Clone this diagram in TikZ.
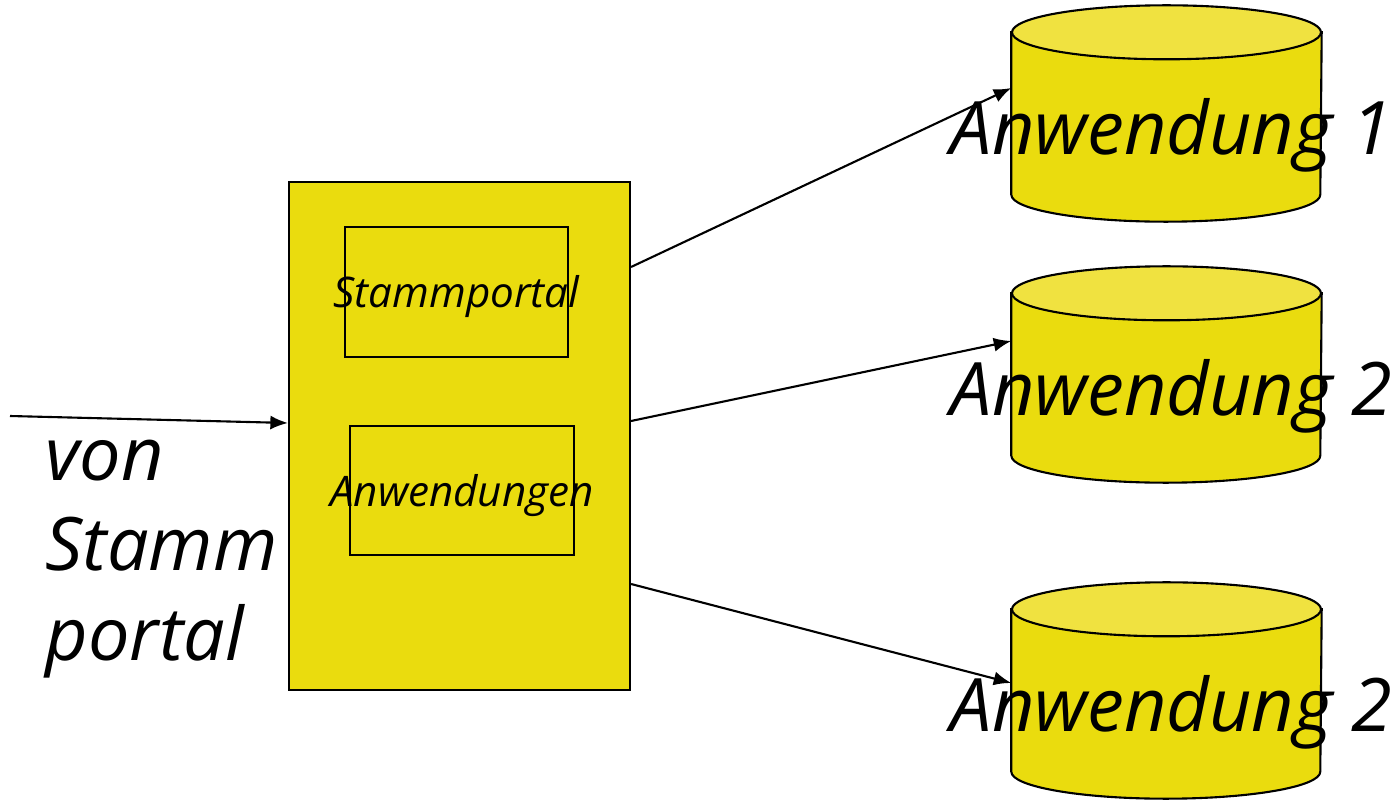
\documentclass[tikz,border=0pt]{standalone}
\usepackage{fontspec}
\setmainfont{Open Sans}
\usetikzlibrary{positioning,arrows.meta}
\definecolor{boxfill}{RGB}{234,220,14}
\definecolor{topfill}{RGB}{240,226,64}
\tikzstyle{portalbox} = [rectangle, draw=black, fill=boxfill, line width=0.6pt, inner sep=0pt]
\tikzstyle{innerbox}  = [rectangle, draw=black, line width=0.6pt, inner sep=0pt]
\tikzstyle{boxtext}   = [font=\itshape\fontsize{12}{14}\selectfont, inner sep=0pt, yshift=-0.05cm]
\tikzstyle{dbbox}     = [rectangle, minimum width=3.09cm, minimum height=2.15cm, inner sep=0pt]
\tikzstyle{dbline}    = [draw=black, line width=0.6pt]
\tikzstyle{biglabel}  = [font=\itshape\fontsize{21}{25.6}\selectfont, inner sep=0pt]
\tikzstyle{arrow}     = [line width=0.6pt,->,>={Latex[length=5pt,width=4pt]}]
% Zylinder um einen Knoten zeichnen
\newcommand{\drawdb}[1]{%
	\draw[dbline,fill=boxfill] ([yshift=-0.27cm]#1.north west) -- ([yshift=0.27cm]#1.south west)
		arc[start angle=180,end angle=360,x radius=1.545cm,y radius=0.27cm]
		-- ([yshift=-0.27cm]#1.north east) -- cycle;
	\draw[dbline,fill=topfill] ([yshift=-0.27cm]#1.north) ellipse [x radius=1.545cm,y radius=0.27cm];}

\begin{document}
\begin{tikzpicture}
	\useasboundingbox (0,0) rectangle (13.99,7.99);
	% Portal und Inhalt
	\node[portalbox,minimum width=3.41cm,minimum height=5.08cm] (portal) at (4.595,3.63) {};
	\node[innerbox,minimum width=2.23cm,minimum height=1.30cm,
		label={[boxtext]center:Stammportal}] (stamm) at (4.565,5.07) {};
	\node[innerbox,minimum width=2.24cm,minimum height=1.29cm,
		label={[boxtext]center:Anwendungen}] (anw) at (4.62,3.085) {};
	% Anwendungen rechts
	\node[dbbox] (app1) at (11.665,6.855) {};
	\node[dbbox] (app2) at (11.665,4.245) {};
	\node[dbbox] (app3) at (11.665,1.085) {};
	\drawdb{app1}
	\drawdb{app2}
	\drawdb{app3}
	\node[biglabel,anchor=base] at ([xshift=0.05cm,yshift=-0.41cm]app1.center) {Anwendung 1};
	\node[biglabel,anchor=base] at ([xshift=0.05cm,yshift=-0.41cm]app2.center) {Anwendung 2};
	\node[biglabel,anchor=base] at ([xshift=0.05cm,yshift=-0.41cm]app3.center) {Anwendung 2};
	% Eingang
	\coordinate (in) at (0.10,3.83);
	\node[biglabel,align=left,anchor=north west] (from) at (0.45,3.60) {von\\Stamm\\portal};
	\draw[arrow] (in) -- ([yshift=0.13cm]portal.west);
	\draw[arrow] ([yshift=1.69cm]portal.east) -- ([yshift=0.255cm]app1.west);
	\draw[arrow] ([yshift=0.15cm]portal.east) -- ([yshift=0.335cm]app2.west);
	\draw[arrow] ([yshift=-1.48cm]portal.east) -- ([yshift=0.075cm]app3.west);
\end{tikzpicture}
\end{document}
